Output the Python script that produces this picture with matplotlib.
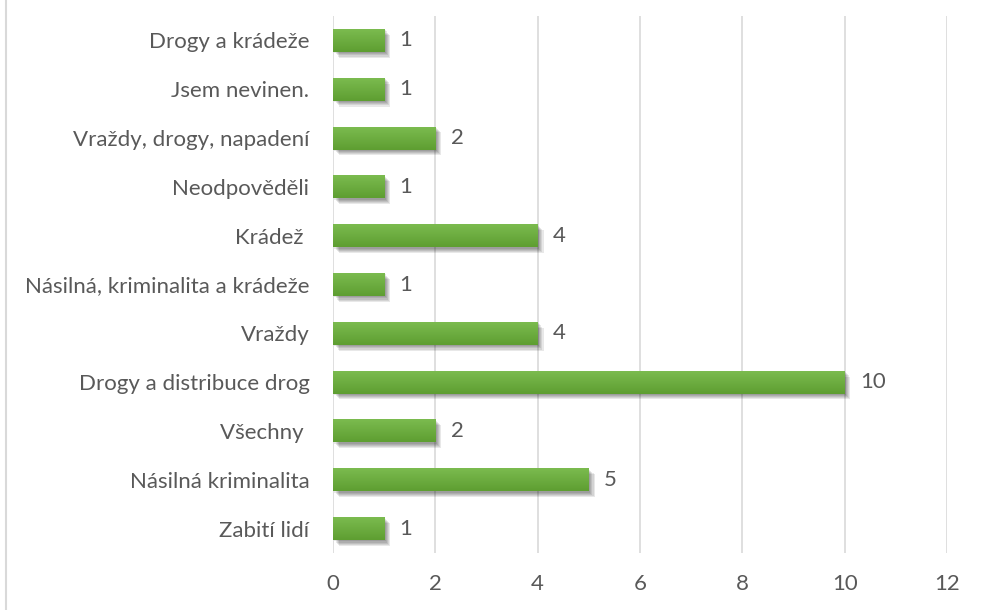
import matplotlib
matplotlib.use("Agg")
import matplotlib.pyplot as plt
import matplotlib.patheffects as pe
from matplotlib.lines import Line2D
from matplotlib.colors import LinearSegmentedColormap
import numpy as np

categories = ["Zabití lidí", "Násilná kriminalita", "Všechny ", "Drogy a distribuce drog",
              "Vraždy", "Násilná, kriminalita a krádeže", "Krádež ", "Neodpověděli",
              "Vraždy, drogy, napadení", "Jsem nevinen.", "Drogy a krádeže"]
values = [1, 5, 2, 10, 4, 1, 4, 1, 2, 1, 1]
xticks = [0, 2, 4, 6, 8, 10, 12]

plt.rcParams['font.family'] = ['Lato', 'DejaVu Sans']
text_color = "#595959"
fs = 16

fig = plt.figure(figsize=(9.81, 6.10), dpi=100)
ax = fig.add_axes([0.3395, 0.0934, 0.6258, 0.8804])

y = np.arange(len(categories))
shadows = [pe.SimplePatchShadow(offset=(o, -o), shadow_rgbFace="#000000", alpha=0.09)
           for o in (1.0, 1.8, 2.6, 3.4, 4.2)]
bars = ax.barh(y, values, height=0.47, color="#6aaa3e", zorder=3,
               path_effects=shadows + [pe.Normal()])

grad = np.linspace(0, 1, 64).reshape(-1, 1)
cmap = LinearSegmentedColormap.from_list("g", ["#5e9e31", "#7bbb4f"])
for b in bars:
    x0, y0 = b.get_x(), b.get_y()
    w, h = b.get_width(), b.get_height()
    im = ax.imshow(grad, extent=[x0, x0 + w, y0, y0 + h], aspect="auto", cmap=cmap,
                   zorder=4, origin="lower")
    im.set_clip_path(b)

for yi, v in zip(y, values):
    ax.annotate(str(v), (v, yi), xytext=(11, 0), textcoords="offset points",
                va="center", ha="left", fontsize=fs, color=text_color)

ax.set_xlim(0, 12)
ax.set_ylim(-0.5, len(categories) - 0.5)
ax.set_xticks(xticks)
ax.set_xticklabels([str(t) for t in xticks])
ax.set_yticks(y)
ax.set_yticklabels(categories)
ax.tick_params(axis="both", length=0, labelsize=fs, colors=text_color)
ax.tick_params(axis="x", pad=15)
ax.tick_params(axis="y", pad=17)
ax.grid(axis="x", color="#d9d9d9", linewidth=1.2, zorder=0)
ax.set_axisbelow(True)
for s in ax.spines.values():
    s.set_visible(False)

fig.add_artist(Line2D([6 / 981, 6 / 981], [0, 1], color="#d9d9d9", linewidth=1.5))

fig.savefig("out.png", dpi=100)
